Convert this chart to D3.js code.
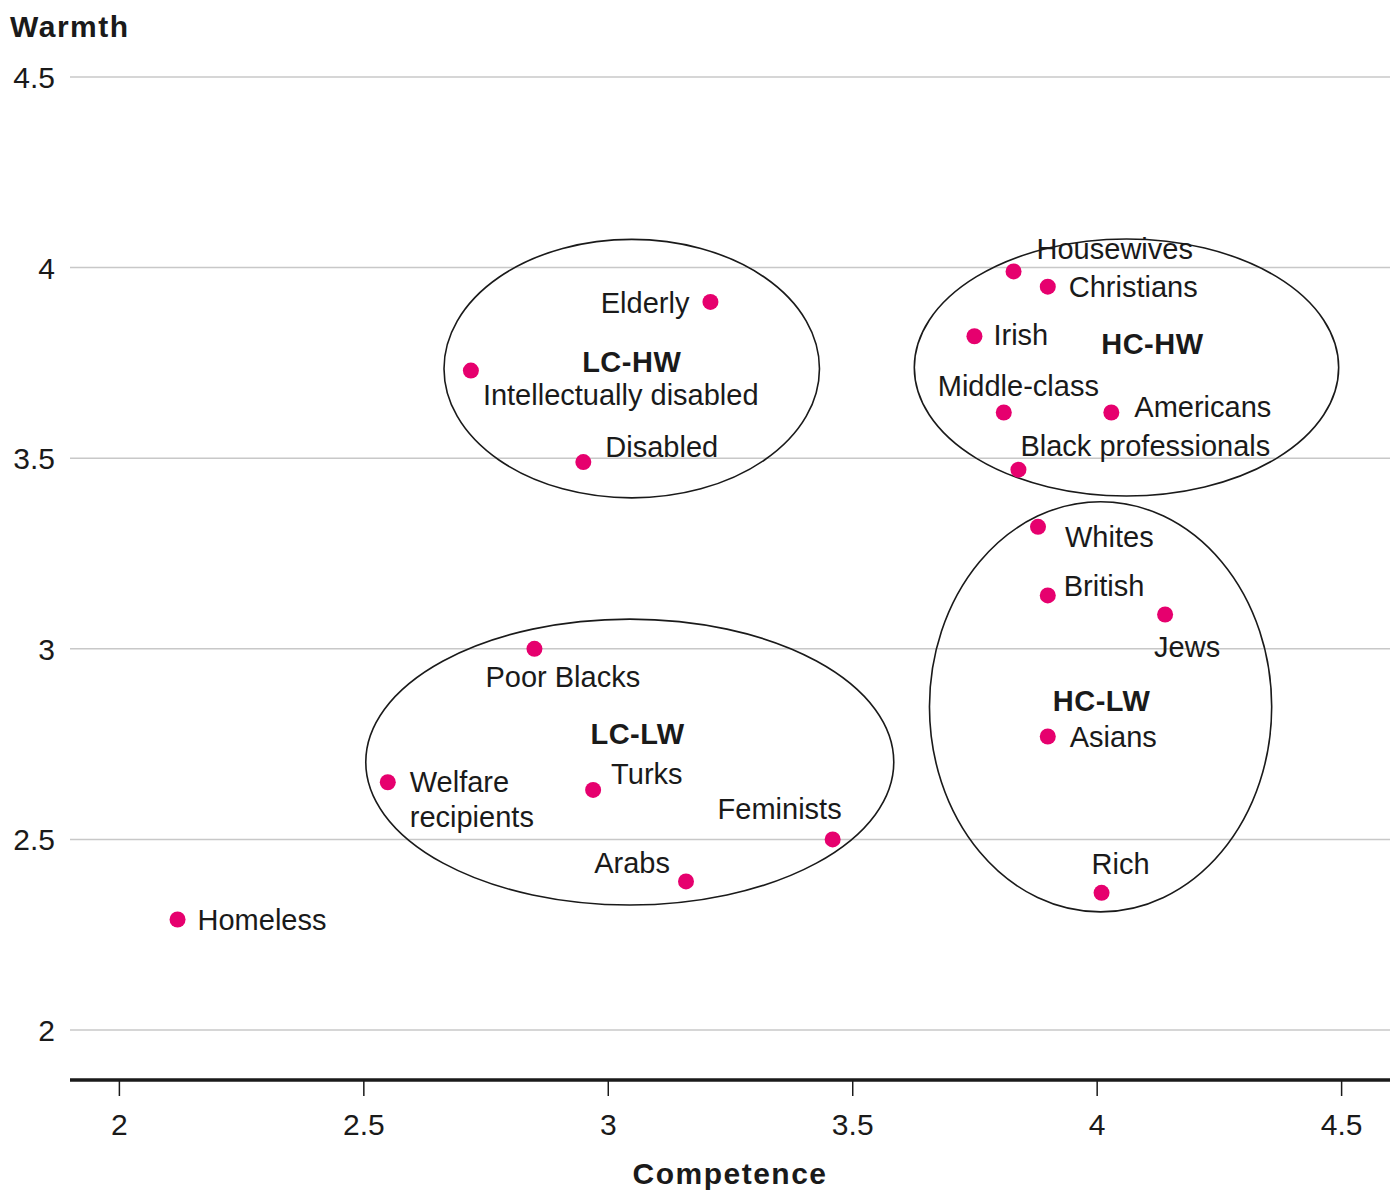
<!DOCTYPE html>
<html>
<head>
<meta charset="utf-8">
<script src="https://cdn.jsdelivr.net/npm/d3@7"></script>
<style>
  body { margin: 0; background: #fff; }
  svg text { font-family: "Liberation Sans", Arial, sans-serif; fill: #1a1a1a; }
</style>
</head>
<body>
<div id="chart"></div>
<script>
// groups, in the order
var names = ["Homeless", "Welfare recipients", "Poor Blacks", "Turks", "Arabs", "Feminists",
    "Elderly", "Intellectually disabled", "Disabled",
    "Housewives", "Christians", "Irish", "Middle-class", "Americans", "Black professionals",
    "Whites", "British", "Jews", "Asians", "Rich"];
var competence = [2.12, 2.55, 2.85, 2.97, 3.16, 3.46,
    3.21, 2.72, 2.95,
    3.83, 3.90, 3.75, 3.81, 4.03, 3.84,
    3.88, 3.90, 4.14, 3.90, 4.01];
var warmth = [2.29, 2.65, 3.00, 2.63, 2.39, 2.50,
    3.91, 3.73, 3.49,
    3.99, 3.95, 3.82, 3.62, 3.62, 3.47,
    3.32, 3.14, 3.09, 2.77, 2.36];

// cluster ellipses (in data units)
var clusterNames = ["LC-HW", "HC-HW", "LC-LW", "HC-LW"];
var clusterCx = [3.049, 4.061, 3.045, 4.008];
var clusterCy = [3.735, 3.738, 2.703, 2.848];
var clusterRx = [0.384, 0.434, 0.540, 0.350];
var clusterRy = [0.339, 0.337, 0.375, 0.538];
var clusterLabelX = [3.049, 4.114, 3.061, 4.010];
var clusterLabelY = [3.753, 3.800, 2.777, 2.863];

var xTicks = [2, 2.5, 3, 3.5, 4, 4.5];
var yTicks = [2, 2.5, 3, 3.5, 4, 4.5];

// label placement relative to the dot: [anchor, dx, dy]
var labelPos = {
    "Homeless": ["start", 20, 10],
    "Welfare recipients": ["start", 22, 10],
    "Poor Blacks": ["start", -49, 38],
    "Turks": ["start", 18, -6],
    "Arabs": ["end", -16, -8],
    "Feminists": ["end", 9, -20],
    "Elderly": ["end", -21, 11],
    "Intellectually disabled": ["start", 12, 34],
    "Disabled": ["start", 22, -5],
    "Housewives": ["start", 23, -12],
    "Christians": ["start", 21, 10],
    "Irish": ["start", 19, 9],
    "Middle-class": ["start", -66, -16],
    "Americans": ["start", 23, 5],
    "Black professionals": ["start", 2, -14],
    "Whites": ["start", 27, 20],
    "British": ["start", 16, 1],
    "Jews": ["start", -11, 42],
    "Asians": ["start", 22, 10],
    "Rich": ["start", -10, -19]
};
// labels split over two lines
var lineBreaks = { "Welfare recipients": ["Welfare", "recipients"] };

var W = 1400, H = 1203;
var pink = "#e6006e";

var svg = d3.select("#chart").append("svg").attr("width", W).attr("height", H);

var x = d3.scaleLinear().domain([1.9, 4.6]).range([70, 1390]);
var y = d3.scaleLinear().domain([1.869, 4.5]).range([1080, 77]);

// horizontal gridlines
svg.append("g")
    .selectAll("line")
    .data(yTicks).enter().append("line")
    .attr("x1", x(1.9)).attr("x2", x(4.6))
    .attr("y1", function (d) { return y(d); })
    .attr("y2", function (d) { return y(d); })
    .attr("stroke", "#c8c8c8")
    .attr("stroke-width", 1.5);

// y labels
svg.append("g")
    .selectAll("text")
    .data(yTicks).enter().append("text")
    .attr("x", 55)
    .attr("y", function (d) { return y(d) + 11; })
    .attr("text-anchor", "end")
    .style("font-size", "30px")
    .text(function (d) { return d; });

svg.append("text")
    .attr("x", 10).attr("y", 37)
    .style("font-size", "30px").style("font-weight", "bold")
    .style("letter-spacing", "1.5px")
    .text("Warmth");

// x axis
var xAxis = svg.append("g")
    .attr("transform", "translate(0,1080)")
    .call(d3.axisBottom(x).tickValues(xTicks).tickSize(16).tickPadding(18)
        .tickFormat(function (d) { return d; }));
xAxis.select(".domain").attr("stroke", "#1a1a1a").attr("stroke-width", 3.5)
    .attr("d", "M" + x(1.9) + ",0H" + x(4.6));
xAxis.selectAll(".tick line").attr("stroke", "#1a1a1a").attr("stroke-width", 1.5);
xAxis.selectAll(".tick text")
    .style("font-size", "30px")
    .style("font-family", "'Liberation Sans', Arial, sans-serif")
    .attr("fill", "#1a1a1a");

svg.append("text")
    .attr("x", 730).attr("y", 1184)
    .attr("text-anchor", "middle")
    .style("font-size", "30px").style("font-weight", "bold")
    .style("letter-spacing", "1.5px")
    .text("Competence");

// cluster ellipses
var clusters = clusterNames.map(function (n, i) {
    return { name: n, cx: clusterCx[i], cy: clusterCy[i], rx: clusterRx[i], ry: clusterRy[i],
        lx: clusterLabelX[i], ly: clusterLabelY[i] };
});
var scaleX = x(1) - x(0), scaleY = y(0) - y(1);

svg.append("g")
    .selectAll("ellipse")
    .data(clusters).enter().append("ellipse")
    .attr("cx", function (c) { return x(c.cx); })
    .attr("cy", function (c) { return y(c.cy); })
    .attr("rx", function (c) { return c.rx * scaleX; })
    .attr("ry", function (c) { return c.ry * scaleY; })
    .attr("fill", "none")
    .attr("stroke", "#1a1a1a")
    .attr("stroke-width", 1.6);

svg.append("g")
    .selectAll("text")
    .data(clusters).enter().append("text")
    .attr("x", function (c) { return x(c.lx); })
    .attr("y", function (c) { return y(c.ly) + 10; })
    .attr("text-anchor", "middle")
    .style("font-size", "29px").style("font-weight", "bold")
    .style("letter-spacing", "0.5px")
    .text(function (c) { return c.name; });

// points
var points = names.map(function (n, i) {
    return { name: n, cx: competence[i], cy: warmth[i] };
});

svg.append("g")
    .selectAll("circle")
    .data(points).enter().append("circle")
    .attr("cx", function (d) { return x(d.cx); })
    .attr("cy", function (d) { return y(d.cy); })
    .attr("r", 8)
    .attr("fill", pink);

var labels = svg.append("g")
    .selectAll("text")
    .data(points).enter().append("text")
    .attr("x", function (d) { return x(d.cx) + labelPos[d.name][1]; })
    .attr("y", function (d) { return y(d.cy) + labelPos[d.name][2]; })
    .attr("text-anchor", function (d) { return labelPos[d.name][0]; })
    .style("font-size", "29px");

labels.each(function (d) {
    var t = d3.select(this);
    var parts = lineBreaks[d.name] || [d.name];
    var px = x(d.cx) + labelPos[d.name][1];
    parts.forEach(function (p, i) {
        t.append("tspan").attr("x", px).attr("dy", i === 0 ? 0 : 35).text(p);
    });
});
</script>
</body>
</html>
